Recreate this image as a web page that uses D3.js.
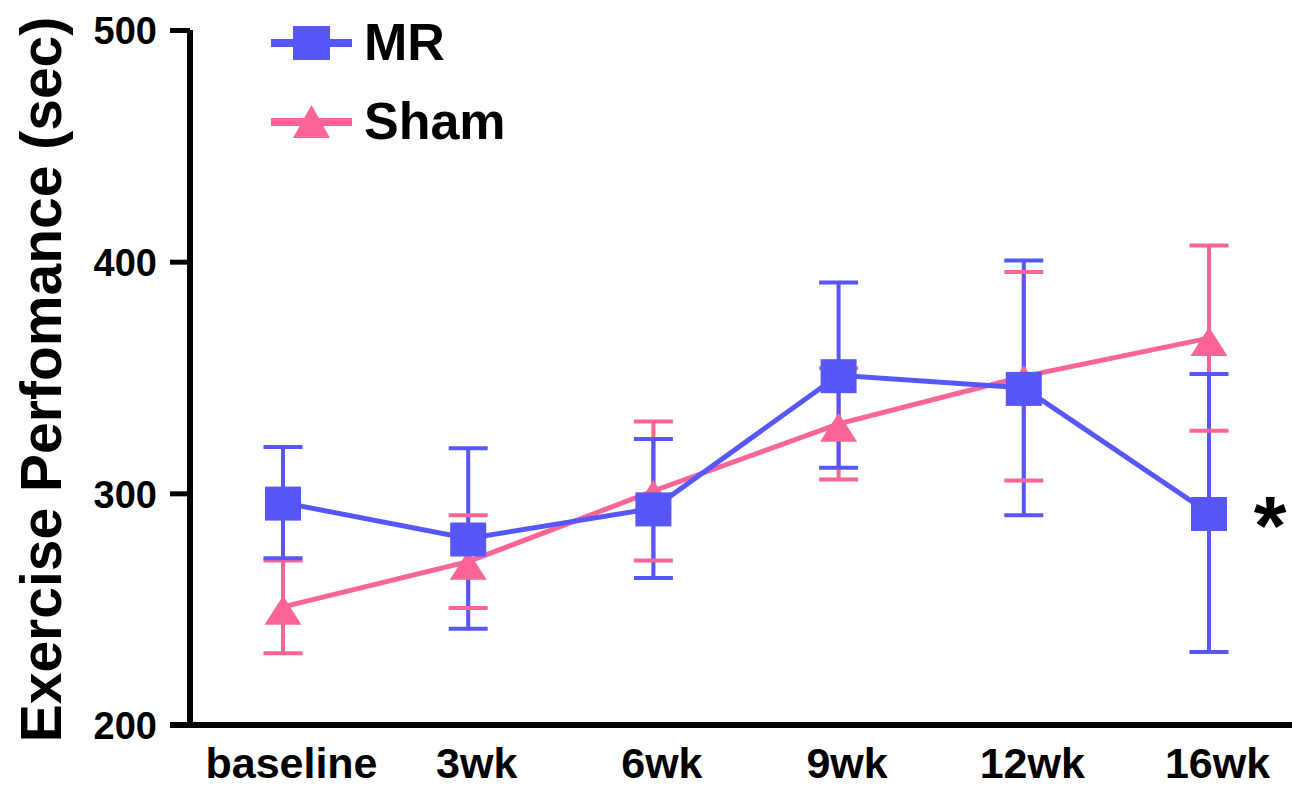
<!DOCTYPE html>
<html>
<head>
<meta charset="utf-8">
<script src="https://cdn.jsdelivr.net/npm/d3@7"></script>
<style>
  html, body { margin: 0; padding: 0; background: #fff; }
  svg { display: block; }
  text { font-family: "Liberation Sans", Arial, sans-serif; font-weight: bold; fill: #000; }
</style>
</head>
<body>
<svg id="chart" width="1292" height="786"></svg>
<script>
// Time points
const timepoints = ["baseline", "3wk", "6wk", "9wk", "12wk", "16wk"];

// Exercise performance (sec), mean and error
const mrMean   = [296, 280.5, 293.5, 351, 345.5, 291.5];
const mrErr    = [24, 39, 30, 40, 55, 60];
const shamMean = [251, 270.5, 301, 330, 350.5, 367];
const shamErr  = [20, 20, 30, 24, 45, 40];

const yTicks = [200, 300, 400, 500];
const yTitle = "Exercise Perfomance (sec)";
const seriesNames = ["MR", "Sham"];

const MR_COLOR = "#5757F9";
const SHAM_COLOR = "#FA6595";

const svg = d3.select("#chart");

const x = d3.scalePoint().domain(timepoints).range([283, 1209]);
const y = d3.scaleLinear().domain([200, 500]).range([725, 30]);

// Y axis
const yAxis = svg.append("g")
  .attr("transform", "translate(190,0)")
  .call(d3.axisLeft(y).tickValues(yTicks).tickSize(20).tickPadding(13).tickFormat(d3.format("d")));
yAxis.select(".domain").attr("stroke", "#000").attr("stroke-width", 6)
  .attr("d", `M0,${y(500)}V${y(200)}`);
yAxis.selectAll(".tick line").attr("stroke", "#000").attr("stroke-width", 5);
yAxis.selectAll(".tick text").style("font-size", "38px").attr("dy", "0.36em");

// X axis (baseline line, no ticks)
const xAxis = svg.append("g")
  .attr("transform", `translate(0,${y(200)})`)
  .call(d3.axisBottom(x).tickSize(0).tickPadding(0));
xAxis.select(".domain").attr("stroke", "#000").attr("stroke-width", 6)
  .attr("d", `M170,0H1292`);
xAxis.selectAll(".tick text")
  .style("font-size", "43px")
  .attr("dx", 8)
  .attr("y", 53)
  .attr("dy", 0);

// Y axis title
svg.append("text")
  .attr("transform", `translate(61,${(y(200) + y(500)) / 2 + 2}) rotate(-90)`)
  .attr("text-anchor", "middle")
  .style("font-size", "57px")
  .text(yTitle);

const plot = svg.append("g");

function errData(means, errs) {
  return timepoints.map((t, i) => ({ t, lo: means[i] - errs[i], hi: means[i] + errs[i], m: means[i] }));
}
const mrErrData = errData(mrMean, mrErr);
const shamErrData = errData(shamMean, shamErr);

function verticals(data, color) {
  plot.append("g").selectAll("line").data(data).join("line")
    .attr("x1", d => x(d.t)).attr("x2", d => x(d.t))
    .attr("y1", d => y(d.hi)).attr("y2", d => y(d.lo))
    .attr("stroke", color).attr("stroke-width", 4);
}
function caps(data, color) {
  const g = plot.append("g");
  ["hi", "lo"].forEach(k => {
    g.append("g").selectAll("line").data(data).join("line")
      .attr("x1", d => x(d.t) - 19.5).attr("x2", d => x(d.t) + 19.5)
      .attr("y1", d => y(d[k])).attr("y2", d => y(d[k]))
      .attr("stroke", color).attr("stroke-width", 4);
  });
}

verticals(shamErrData, SHAM_COLOR);
verticals(mrErrData, MR_COLOR);
caps(shamErrData, SHAM_COLOR);
caps(mrErrData, MR_COLOR);

const line = d3.line().x(d => x(d.t)).y(d => y(d.m));
plot.append("path").datum(shamErrData).attr("d", line)
  .attr("fill", "none").attr("stroke", SHAM_COLOR).attr("stroke-width", 5);
plot.append("path").datum(mrErrData).attr("d", line)
  .attr("fill", "none").attr("stroke", MR_COLOR).attr("stroke-width", 5);

// Triangle markers
function triPath(cx, cy, up, down) {
  return `M${cx},${cy - up}L${cx + 18.5},${cy + down}L${cx - 18.5},${cy + down}Z`;
}
plot.append("g").selectAll("path").data(shamErrData).join("path")
  .attr("d", d => triPath(x(d.t), y(d.m), 11, 18))
  .attr("fill", SHAM_COLOR);

// Square markers
plot.append("g").selectAll("rect").data(mrErrData).join("rect")
  .attr("x", d => x(d.t) - 18).attr("y", d => y(d.m) - 16)
  .attr("width", 36).attr("height", 34)
  .attr("fill", MR_COLOR);

// Significance marker
svg.append("text")
  .attr("x", x("16wk") + 61)
  .attr("y", y(mrMean[5]) + 42)
  .attr("text-anchor", "middle")
  .style("font-size", "84px")
  .text("*");

// Legend
const legend = svg.append("g");
const legendRows = [
  { name: seriesNames[0], color: MR_COLOR, yPos: 43, shape: "square" },
  { name: seriesNames[1], color: SHAM_COLOR, yPos: 122, shape: "triangle" }
];
legendRows.forEach(r => {
  legend.append("line").attr("x1", 271).attr("x2", 352)
    .attr("y1", r.yPos).attr("y2", r.yPos)
    .attr("stroke", r.color).attr("stroke-width", 8);
  if (r.shape === "square") {
    legend.append("rect").attr("x", 293).attr("y", r.yPos - 17)
      .attr("width", 37).attr("height", 34).attr("fill", r.color);
  } else {
    legend.append("path").attr("d", triPath(311.5, r.yPos, 17, 16)).attr("fill", r.color);
  }
  legend.append("text").attr("x", 364).attr("y", r.yPos + 17)
    .style("font-size", "52px").text(r.name);
});
</script>
</body>
</html>
